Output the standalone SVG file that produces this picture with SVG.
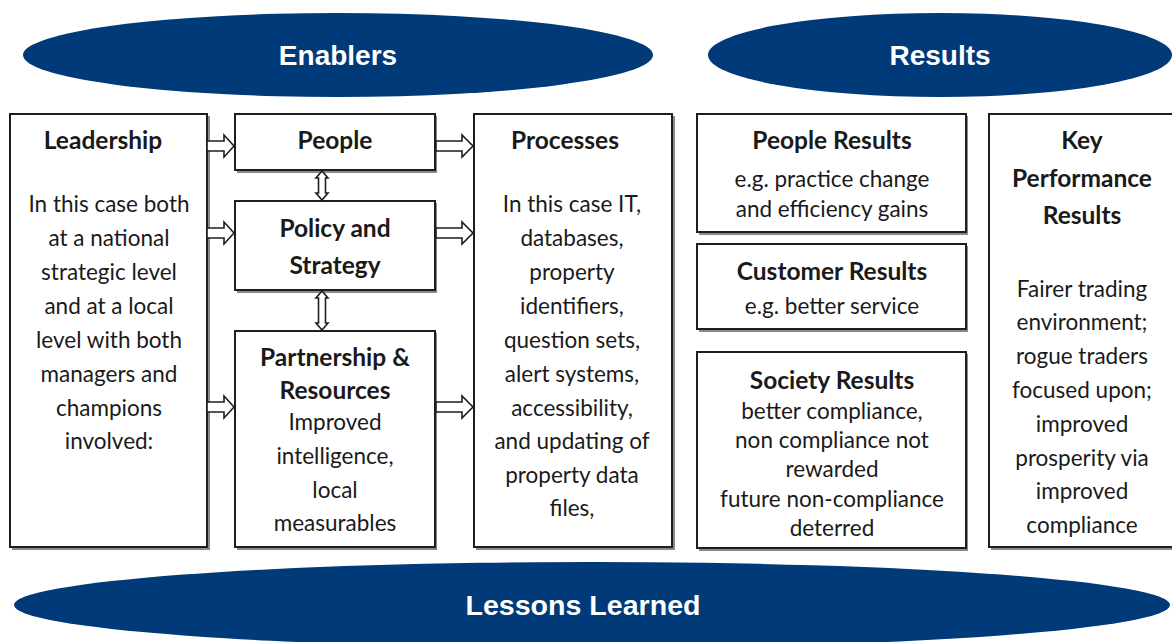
<svg xmlns="http://www.w3.org/2000/svg" width="1172" height="642" viewBox="0 0 1172 642">
<style>
.ell{fill:#003a78}
.et{fill:#fff;font-family:"Liberation Sans",Arial,sans-serif;font-weight:bold;font-size:28px;text-anchor:middle}
.box{fill:#fff;stroke:#1e1e1e;stroke-width:2}
.sh{fill:#8a8a8a}
.t{font-family:Lato,"Open Sans",sans-serif;font-size:22.5px;fill:#1a1a1a;text-anchor:middle}
.b{font-weight:bold;font-size:24.5px}
.arr{fill:#fff;stroke:#1e1e1e;stroke-width:1.6;stroke-linejoin:miter}
</style>
<rect width="1172" height="642" fill="#fff"/>
<g id="enablers"><ellipse class="ell" cx="338" cy="55" rx="315" ry="42"/><text class="et" x="338" y="65">Enablers</text></g>
<g id="results"><ellipse class="ell" cx="940" cy="55" rx="232" ry="42"/><text class="et" x="940" y="65">Results</text></g>
<g id="lessons"><ellipse class="ell" cx="592" cy="605" rx="578" ry="43"/><text class="et" x="583" y="615" textLength="235" lengthAdjust="spacingAndGlyphs">Lessons Learned</text></g>

<g id="leadership"><rect class="sh" x="12" y="116" width="198" height="434"/><rect class="box" x="10" y="114" width="197" height="433"/>
<text class="t b" x="103" y="149">Leadership</text>
<text class="t"><tspan x="109" y="212">In this case both</tspan><tspan x="109" y="246">at a national</tspan><tspan x="109" y="280">strategic level</tspan><tspan x="109" y="314">and at a local</tspan><tspan x="109" y="348">level with both</tspan><tspan x="109" y="382">managers and</tspan><tspan x="109" y="416">champions</tspan><tspan x="109" y="449">involved:</tspan></text></g>

<g id="people"><rect class="sh" x="237" y="116" width="200" height="57"/><rect class="box" x="235" y="114" width="200" height="56"/>
<text class="t b" x="335" y="149">People</text></g>

<g id="policy"><rect class="sh" x="237" y="203" width="200" height="90"/><rect class="box" x="235" y="201" width="200" height="89"/>
<text class="t b"><tspan x="335" y="237">Policy and</tspan><tspan x="335" y="274">Strategy</tspan></text></g>

<g id="partnership"><rect class="sh" x="237" y="333" width="200" height="217"/><rect class="box" x="235" y="331" width="200" height="216"/>
<text class="t b"><tspan x="335" y="366">Partnership &amp;</tspan><tspan x="335" y="399">Resources</tspan></text>
<text class="t"><tspan x="335" y="430">Improved</tspan><tspan x="335" y="464">intelligence,</tspan><tspan x="335" y="498">local</tspan><tspan x="335" y="531">measurables</tspan></text></g>

<g id="processes"><rect class="sh" x="476" y="116" width="199" height="434"/><rect class="box" x="474" y="114" width="198" height="433"/>
<text class="t b" x="565" y="149">Processes</text>
<text class="t"><tspan x="572" y="212">In this case IT,</tspan><tspan x="572" y="246">databases,</tspan><tspan x="572" y="280">property</tspan><tspan x="572" y="314">identifiers,</tspan><tspan x="572" y="348">question sets,</tspan><tspan x="572" y="382">alert systems,</tspan><tspan x="572" y="416">accessibility,</tspan><tspan x="572" y="449">and updating of</tspan><tspan x="572" y="483">property data</tspan><tspan x="572" y="516">files,</tspan></text></g>

<g id="people-results"><rect class="sh" x="699" y="116" width="269" height="119"/><rect class="box" x="697" y="114" width="269" height="118"/>
<text class="t b" x="832" y="149">People Results</text>
<text class="t"><tspan x="832" y="187">e.g. practice change</tspan><tspan x="832" y="217">and efficiency gains</tspan></text></g>

<g id="customer-results"><rect class="sh" x="699" y="246" width="269" height="86"/><rect class="box" x="697" y="244" width="269" height="85"/>
<text class="t b" x="832" y="280">Customer Results</text>
<text class="t" x="832" y="314">e.g. better service</text></g>

<g id="society-results"><rect class="sh" x="699" y="354" width="269" height="197"/><rect class="box" x="697" y="352" width="269" height="196"/>
<text class="t b" x="832" y="389">Society Results</text>
<text class="t"><tspan x="832" y="419">better compliance,</tspan><tspan x="832" y="448">non compliance not</tspan><tspan x="832" y="477">rewarded</tspan><tspan x="832" y="507">future non-compliance</tspan><tspan x="832" y="536">deterred</tspan></text></g>

<g id="kpr"><rect class="sh" x="991" y="116" width="190" height="434"/><rect class="box" x="989" y="114" width="190" height="433"/>
<text class="t b"><tspan x="1082" y="149">Key</tspan><tspan x="1082" y="187">Performance</tspan><tspan x="1082" y="224">Results</tspan></text>
<text class="t"><tspan x="1082" y="297">Fairer trading</tspan><tspan x="1082" y="330">environment;</tspan><tspan x="1082" y="364">rogue traders</tspan><tspan x="1082" y="398">focused upon;</tspan><tspan x="1082" y="432">improved</tspan><tspan x="1082" y="466">prosperity via</tspan><tspan x="1082" y="499">improved</tspan><tspan x="1082" y="533">compliance</tspan></text></g>

<g id="connectors">
<path class="arr" d="M207,141 H224 V135 L234,146 L224,157 V151 H207 Z"/>
<path class="arr" d="M207,228 H224 V222 L234,233 L224,244 V238 H207 Z"/>
<path class="arr" d="M207,402 H224 V396 L234,407 L224,418 V412 H207 Z"/>
<path class="arr" d="M436,141 H462 V135 L473,146 L462,157 V151 H436 Z"/>
<path class="arr" d="M436,228 H462 V222 L473,233 L462,244 V238 H436 Z"/>
<path class="arr" d="M436,402 H462 V396 L473,407 L462,418 V412 H436 Z"/>
<path class="arr" d="M322,171 L328,178 H325.5 V193 H328 L322,200 L316,193 H318.5 V178 H316 Z"/>
<path class="arr" d="M322,291 L328,298 H325.5 V323 H328 L322,330 L316,323 H318.5 V298 H316 Z"/>
</g>
</svg>
